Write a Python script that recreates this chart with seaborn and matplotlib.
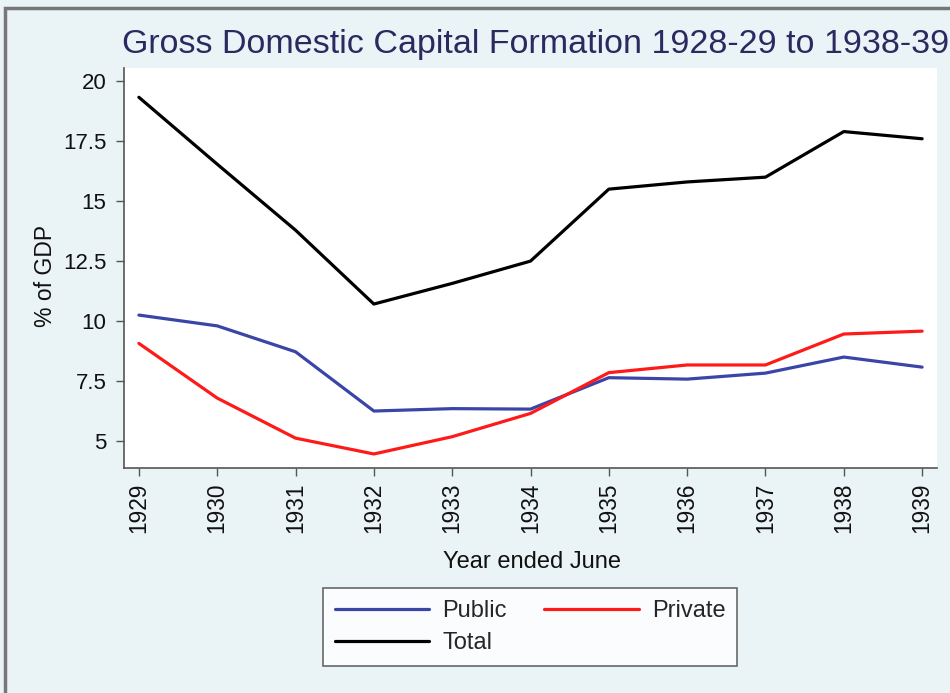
import matplotlib
matplotlib.use("Agg")
import matplotlib.pyplot as plt
import seaborn as sns
import pandas as pd
from matplotlib.patches import Rectangle
from matplotlib.lines import Line2D

years = [1929, 1930, 1931, 1932, 1933, 1934, 1935, 1936, 1937, 1938, 1939]
public = [10.25, 9.8, 8.72, 6.25, 6.35, 6.33, 7.64, 7.58, 7.83, 8.5, 8.08]
private = [9.07, 6.79, 5.12, 4.46, 5.18, 6.15, 7.85, 8.17, 8.17, 9.46, 9.58]
total = [19.33, 16.54, 13.79, 10.71, 11.57, 12.5, 15.5, 15.8, 16.0, 17.9, 17.6]
y_ticks = [5, 7.5, 10, 12.5, 15, 17.5, 20]
y_tick_labels = ["5", "7.5", "10", "12.5", "15", "17.5", "20"]

df = pd.DataFrame({
    "year": years * 3,
    "value": public + private + total,
    "series": ["Public"] * len(years) + ["Private"] * len(years) + ["Total"] * len(years),
})

sns.set_theme(style="white")
plt.rcParams["font.family"] = ["Liberation Sans", "DejaVu Sans"]

bg = "#eaf3f6"
fig = plt.figure(figsize=(9.5, 6.93), dpi=100, facecolor=bg)
ax = fig.add_axes([124 / 950, 1 - 468 / 693, (937 - 124) / 950, (468 - 68) / 693])
ax.set_facecolor("white")

palette = {"Public": "#3a45a8", "Private": "#ff1a1a", "Total": "#000000"}
sns.lineplot(data=df, x="year", y="value", hue="series", palette=palette,
             linewidth=2.3, ax=ax, legend=False)

ax.set_xlim(1928.81, 1939.19)
ax.set_ylim(3.875, 20.55)
ax.set_xticks(years)
ax.set_xticklabels([str(y) for y in years], rotation=90, fontsize=16.3)
ax.set_yticks(y_ticks)
ax.set_yticklabels(y_tick_labels, fontsize=16)
ax.tick_params(axis="both", direction="out", length=6, width=1, color="#555555",
               bottom=True, left=True, labelcolor="#111111")
ax.tick_params(axis="x", pad=4.5)
ax.tick_params(axis="y", pad=6.7)

for side in ["top", "right"]:
    ax.spines[side].set_visible(False)
for side in ["left", "bottom"]:
    ax.spines[side].set_color("#555555")
    ax.spines[side].set_linewidth(1.2)

ax.set_xlabel("Year ended June", fontsize=17, color="#111111", va="top")
ax.xaxis.set_label_coords(0.502, -0.208)
ax.set_ylabel("% of GDP", fontsize=16.5, color="#111111")
ax.yaxis.set_label_coords(-0.083, 0.48)

fig.text(122 / 950, 1 - 45 / 693, "Gross Domestic Capital Formation 1928-29 to 1938-39",
         fontsize=24.5, color="#2a2a60", ha="left", va="center")

# Legend
handles = [Line2D([], [], color=palette["Public"], lw=2.3),
           Line2D([], [], color=palette["Total"], lw=2.3),
           Line2D([], [], color=palette["Private"], lw=2.3)]
labels = ["Public", "Total", "Private"]
leg = fig.legend(handles, labels, ncol=2, loc="center",
                 bbox_to_anchor=(530 / 950, 1 - 627 / 693),
                 fontsize=17, handlelength=4.0, columnspacing=1.6,
                 frameon=True, fancybox=False, edgecolor="#444444",
                 borderpad=0.5, labelspacing=0.42, handletextpad=0.55,
                 borderaxespad=0)
leg.get_frame().set_linewidth(1.2)
leg.get_frame().set_facecolor("white")

# outer frame
fig.patches.append(Rectangle((5 / 950, -0.01), 2, 0.999, transform=fig.transFigure,
                             fill=False, edgecolor="#777777", linewidth=2.5))

fig.savefig("out.png", dpi=100, facecolor=bg)
